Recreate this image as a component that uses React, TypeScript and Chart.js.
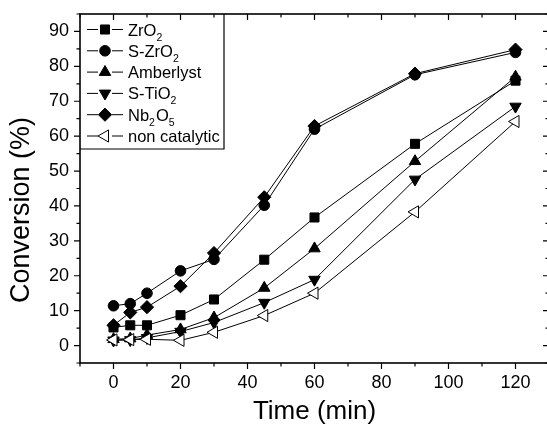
import React, { useEffect, useRef } from 'react';
import { Chart, registerables } from 'chart.js';
import { drawPoint } from 'chart.js/helpers';

Chart.register(...registerables);

const times = [0, 5, 10, 20, 30, 45, 60, 90, 120];
const zro2 = [5.2, 5.8, 5.8, 8.7, 13.2, 24.6, 36.7, 57.8, 75.9];
const sZro2 = [11.4, 12.0, 15.0, 21.4, 24.7, 40.2, 62.0, 77.6, 84.0];
const amberlyst = [1.8, 2.0, 3.0, 4.6, 8.0, 16.5, 27.8, 52.8, 77.0];
const sTio2 = [1.5, 1.6, 2.2, 4.0, 6.6, 12.3, 18.9, 47.6, 68.5];
const nb2o5 = [5.8, 9.5, 11.0, 17.0, 26.5, 42.5, 62.9, 77.9, 84.8];
const nonCatalytic = [1.6, 1.7, 1.8, 1.5, 3.8, 8.6, 15.0, 38.3, 64.2];

const seriesLabels = ['ZrO₂', 'S-ZrO₂', 'Amberlyst', 'S-TiO₂', 'Nb₂O₅', 'non catalytic'];
// legend text parts: [text, isSubscript]
const legendParts: [string, boolean][][] = [
  [['ZrO', false], ['2', true]],
  [['S-ZrO', false], ['2', true]],
  [['Amberlyst', false]],
  [['S-TiO', false], ['2', true]],
  [['Nb', false], ['2', true], ['O', false], ['5', true]],
  [['non catalytic', false]],
];

const xTickValues = [0, 20, 40, 60, 80, 100, 120];
const yTickValues = [0, 10, 20, 30, 40, 50, 60, 70, 80, 90];
const xTitle = 'Time (min)';
const yTitle = 'Conversion (%)';

const FONT = "'Liberation Sans', Arial, Helvetica, sans-serif";

const styles = [
  { pointStyle: 'rect', rotation: 0, radius: 6.4, fill: '#000' },
  { pointStyle: 'circle', rotation: 0, radius: 5.3, fill: '#000' },
  { pointStyle: 'triangle', rotation: 0, radius: 6.6, fill: '#000' },
  { pointStyle: 'triangle', rotation: 180, radius: 6.6, fill: '#000' },
  { pointStyle: 'rectRot', rotation: 0, radius: 6.6, fill: '#000' },
  { pointStyle: 'triangle', rotation: 270, radius: 7, fill: '#fff' },
];

const framePlugin = {
  id: 'frameTicksLegend',
  afterDraw(chart: any) {
    const { ctx, chartArea } = chart;
    const { left, right, top, bottom } = chartArea;
    const xs = chart.scales.x;
    const ys = chart.scales.y;
    ctx.save();
    ctx.strokeStyle = '#000';
    ctx.lineWidth = 1.6;
    ctx.strokeRect(left, top, right - left, bottom - top);
    ctx.lineWidth = 1.2;
    ctx.beginPath();
    for (let v = -10; v <= 130; v += 10) {
      const px = xs.getPixelForValue(v);
      const len = v % 20 === 0 ? 6 : 3.5;
      ctx.moveTo(px, bottom);
      ctx.lineTo(px, bottom + len);
      ctx.moveTo(px, top);
      ctx.lineTo(px, top + len);
    }
    for (let v = -5; v <= 95; v += 5) {
      const py = ys.getPixelForValue(v);
      const len = v % 10 === 0 ? 6 : 3.5;
      ctx.moveTo(left, py);
      ctx.lineTo(left - len, py);
      ctx.moveTo(right, py);
      ctx.lineTo(right - len, py);
    }
    ctx.stroke();

    // y axis title (drawn manually, off-centre like the original)
    const yt = chart.options.scales.y.title;
    ctx.save();
    ctx.translate(22, 210);
    ctx.rotate(-Math.PI / 2);
    ctx.fillStyle = '#000';
    ctx.font = `27px ${FONT}`;
    ctx.textAlign = 'center';
    ctx.textBaseline = 'middle';
    ctx.fillText(yt.text, 0, 0);
    ctx.restore();

    // legend box
    const bx0 = left;
    const by0 = top;
    const bx1 = left + 144;
    const by1 = top + 135;
    ctx.strokeStyle = '#000';
    ctx.lineWidth = 1.2;
    ctx.beginPath();
    ctx.moveTo(bx1, by0);
    ctx.lineTo(bx1, by1);
    ctx.lineTo(bx0, by1);
    ctx.stroke();

    for (let i = 0; i < legendParts.length; i++) {
      const cy = top + 15.5 + i * 21.3;
      const mx = left + 25;
      ctx.lineWidth = 1;
      ctx.strokeStyle = '#000';
      ctx.beginPath();
      ctx.moveTo(left + 7, cy);
      ctx.lineTo(mx - 7, cy);
      ctx.moveTo(mx + 7, cy);
      ctx.lineTo(left + 43, cy);
      ctx.stroke();
      const st = styles[i];
      ctx.fillStyle = st.fill;
      ctx.strokeStyle = '#000';
      ctx.lineWidth = 1;
      drawPoint(ctx, { pointStyle: st.pointStyle, rotation: st.rotation, radius: st.radius, borderWidth: 1 } as any, mx, cy);
      let tx = left + 48;
      const base = cy + 6;
      ctx.fillStyle = '#000';
      ctx.textBaseline = 'alphabetic';
      ctx.textAlign = 'left';
      for (const [txt, sub] of legendParts[i]) {
        ctx.font = sub ? `10.5px ${FONT}` : `16.5px ${FONT}`;
        ctx.fillText(txt, tx, sub ? base + 5 : base);
        tx += ctx.measureText(txt).width + (sub ? 1 : 0);
      }
    }
    ctx.restore();
  },
};

export default function App() {
  const ref = useRef<HTMLCanvasElement>(null);
  useEffect(() => {
    if (!ref.current) return;
    const allData = [zro2, sZro2, amberlyst, sTio2, nb2o5, nonCatalytic];
    const datasets = allData.map((d, i) => ({
      label: seriesLabels[i],
      data: times.map((t, j) => ({ x: t, y: d[j] })),
      borderColor: '#000',
      borderWidth: 1,
      backgroundColor: styles[i].fill,
      pointBackgroundColor: styles[i].fill,
      pointBorderColor: '#000',
      pointBorderWidth: 1,
      pointStyle: styles[i].pointStyle as any,
      pointRotation: styles[i].rotation,
      pointRadius: styles[i].radius,
      pointHoverRadius: styles[i].radius,
      tension: 0,
      fill: false,
      order: 6 - i,
    }));
    const chart = new Chart(ref.current, {
      type: 'line',
      data: { datasets },
      options: {
        animation: false,
        responsive: false,
        devicePixelRatio: 1,
        layout: { autoPadding: false, padding: { top: 14, right: 1, left: 0, bottom: 0 } },
        plugins: { legend: { display: false }, tooltip: { enabled: false } },
        scales: {
          x: {
            type: 'linear',
            min: -10,
            max: 130,
            afterFit: (s: any) => { s.height = 67; s.paddingLeft = 0; s.paddingRight = 0; },
            afterBuildTicks: (s: any) => { s.ticks = xTickValues.map((v) => ({ value: v })); },
            grid: { display: false, drawTicks: false },
            border: { display: false },
            ticks: { autoSkip: false, maxRotation: 0, padding: 9, color: '#000', font: { size: 18, family: FONT } },
            title: { display: true, text: xTitle, color: '#000', font: { size: 26, family: FONT }, padding: { top: 0, bottom: 3 } },
          },
          y: {
            type: 'linear',
            min: -5,
            max: 95,
            afterFit: (s: any) => { s.width = 80; s.paddingTop = 0; s.paddingBottom = 0; },
            afterBuildTicks: (s: any) => { s.ticks = yTickValues.map((v) => ({ value: v })); },
            grid: { display: false, drawTicks: false },
            border: { display: false },
            ticks: { autoSkip: false, padding: 11, color: '#000', font: { size: 18, family: FONT } },
            title: { display: false, text: yTitle, color: '#000', font: { size: 27, family: FONT } },
          },
        },
      },
      plugins: [framePlugin],
    });
    return () => chart.destroy();
  }, []);
  return (
    <div style={{ position: 'fixed', left: 0, top: 0, width: 547, height: 430, overflow: 'hidden', background: '#fff' }}>
      <div style={{ position: 'relative', width: 550, height: 430 }}>
        <canvas ref={ref} width={550} height={430} style={{ width: 550, height: 430, display: 'block' }} />
      </div>
    </div>
  );
}
